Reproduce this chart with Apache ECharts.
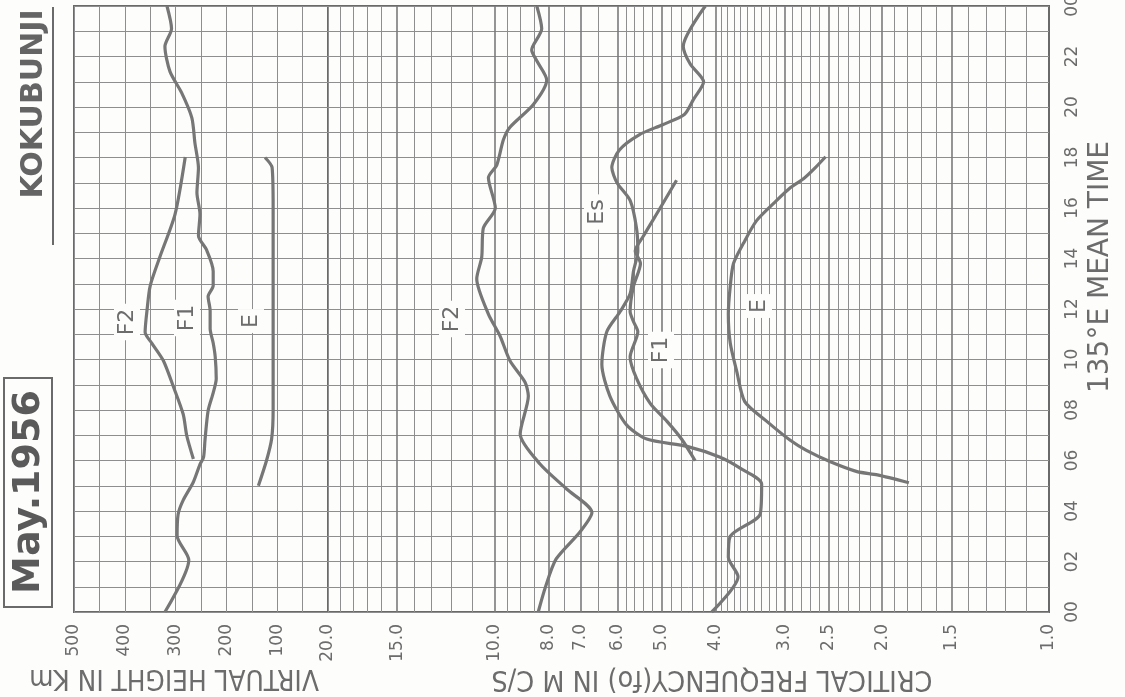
<!DOCTYPE html>
<html>
<head>
<meta charset="utf-8">
<script src="https://cdn.jsdelivr.net/npm/echarts/dist/echarts.min.js"></script>
<style>
  html, body { margin: 0; padding: 0; background: #fdfdfc; }
  #main { width: 1125px; height: 697px; }
</style>
</head>
<body>
<div id="main"></div>
<script>
  // ---- values (hour of day, 135E mean time) ----
  // virtual heights, km
  var hourHF   = [0, 2.06, 3.02, 3.87, 4.43, 5.15, 5.85, 6.13, 6.84, 7.97, 8.68, 9.24, 10.1, 10.65, 11.22, 11.93, 12.5, 12.92, 13.5, 14.34, 14.9, 15.76, 16.6, 17.59, 18.58, 19.57, 20.56, 21.4, 22.4, 23.1, 24];
  var heightHF = [321, 274, 297, 295, 285, 265, 252, 245, 242, 236, 226, 220, 222, 226, 232, 232, 236, 226, 226, 239, 255, 252, 258, 255, 262, 268, 288, 311, 321, 308, 317];
  var hourHF2   = [6.06, 6.98, 7.83, 8.96, 9.95, 10.65, 11.08, 12.0, 12.92, 14.06, 15.76, 18.02];
  var heightHF2 = [265, 278, 285, 305, 324, 347, 360, 356, 350, 331, 301, 281];
  var hourHE   = [5.0, 6.0, 6.85, 8, 10, 12, 14, 16, 17.6, 18.0];
  var heightHE = [137, 121, 111, 108, 108, 108, 108, 108, 110, 124];

  // critical frequencies, Mc/s
  var hourFoF2 = [0, 1.0, 2.1, 3.17, 3.94, 4.87, 5.85, 7.05, 8.55, 9.1, 9.95, 10.94, 11.8, 13.2, 14.05, 15.2, 16.0, 17.2, 17.7, 18.7, 19.2, 20.1, 21.07, 21.83, 22.26, 23.1, 24];
  var foF2     = [8.35, 8.1, 7.75, 7.02, 6.68, 7.42, 8.28, 9.0, 8.70, 8.82, 9.39, 9.79, 10.27, 10.78, 10.56, 10.49, 9.98, 10.27, 9.92, 9.65, 9.39, 8.52, 8.06, 8.40, 8.58, 8.23, 8.40];
  var hourFoEs = [0, 1.4, 2.17, 3.0, 3.88, 5.07, 5.7, 6.13, 6.56, 6.85, 7.4, 8.55, 9.8, 11.1, 11.9, 12.6, 13.5, 14.3, 15.2, 16.3, 17.0, 17.6, 18.3, 18.9, 19.3, 19.7, 20.3, 21.0, 21.7, 22.4, 24];
  var foEs     = [4.06, 3.64, 3.79, 3.76, 3.32, 3.30, 3.61, 3.92, 4.50, 5.32, 5.78, 6.20, 6.41, 6.28, 5.94, 5.70, 5.62, 5.52, 5.55, 5.70, 6.02, 6.15, 5.96, 5.49, 4.98, 4.55, 4.38, 4.20, 4.44, 4.57, 4.17];
  var hourFoF1 = [5.99, 6.84, 7.55, 8.25, 9.25, 10.1, 11.1, 11.5, 11.9, 12.9, 13.8, 14.3, 14.9, 16.0, 17.1];
  var foF1     = [4.35, 4.60, 4.89, 5.24, 5.55, 5.70, 5.52, 5.62, 5.70, 5.62, 5.46, 5.58, 5.39, 5.03, 4.70];
  var hourFoE  = [5.12, 5.43, 5.56, 5.95, 6.4, 6.8, 7.55, 8.33, 9.53, 10.65, 11.8, 12.9, 13.8, 14.6, 15.5, 16.3, 16.8, 17.17, 17.6, 18.03];
  var foE      = [1.79, 2.04, 2.22, 2.48, 2.74, 2.93, 3.23, 3.54, 3.66, 3.76, 3.79, 3.76, 3.71, 3.56, 3.37, 3.10, 2.93, 2.77, 2.64, 2.53];

  // ruling of the frequency (log) part and its labels
  var freqRules = [1.1, 1.2, 1.3, 1.4, 1.5, 1.6, 1.7, 1.8, 1.9, 2.0, 2.1, 2.2, 2.3, 2.4, 2.5, 2.6, 2.7, 2.8, 2.9,
                   3.0, 3.1, 3.2, 3.3, 3.4, 3.5, 3.6, 3.7, 3.8, 3.9, 4.0, 4.2, 4.4, 4.6, 4.8, 5.0, 5.2, 5.4, 5.6, 5.8,
                   6.0, 6.5, 7.0, 7.5, 8.0, 8.5, 9.0, 9.5, 10, 11, 12, 13, 14, 15, 16, 17, 18, 19];
  var freqMajor = [1.5, 2.0, 2.5, 3.0, 4.0, 5.0, 6.0, 7.0, 8.0, 10, 15];
  var freqTicks  = [20, 15, 10, 8, 7, 6, 5, 4, 3, 2.5, 2, 1.5, 1];
  var freqTickTx = ['20.0', '15.0', '10.0', '8.0', '7.0', '6.0', '5.0', '4.0', '3.0', '2.5', '2.0', '1.5', '1.0'];

  var INK = '#6c6c6c';
  var RULE = '#8e8e8e';
  var CURVE = '#767676';
  var FONT = 'DejaVu Sans';

  function pairs(hours, vals) {
    var out = [];
    for (var i = 0; i < hours.length; i++) out.push([vals[i], hours[i]]);
    return out;
  }

  function curve(name, gi, hours, vals) {
    return {
      name: name, type: 'line', xAxisIndex: gi, yAxisIndex: gi,
      data: pairs(hours, vals), smooth: 0.25, showSymbol: false, symbol: 'none',
      lineStyle: { color: CURVE, width: 3.2 }, z: 5, silent: true
    };
  }

  var rules = [];
  for (var i = 0; i < freqRules.length; i++) {
    var major = freqMajor.indexOf(freqRules[i]) >= 0;
    rules.push({ xAxis: freqRules[i], lineStyle: { color: major ? '#7a7a7a' : RULE, width: major ? 1.6 : 1, type: 'solid' } });
  }

  var myChart = echarts.init(document.getElementById('main'));
  var option = {
    backgroundColor: '#fdfdfc',
    animation: false,
    grid: [
      { left: 74, right: 797, top: 6, bottom: 85, show: true, borderColor: '#6a6a6a', borderWidth: 2, backgroundColor: 'transparent', containLabel: false, outerBoundsMode: 'none' },
      { left: 328, right: 76, top: 6, bottom: 85, show: true, borderColor: '#6a6a6a', borderWidth: 2, backgroundColor: 'transparent', containLabel: false, outerBoundsMode: 'none' }
    ],
    xAxis: [
      {
        gridIndex: 0, type: 'value', min: 0, max: 500, interval: 50, inverse: true,
        axisLine: { show: false }, axisTick: { show: false },
        splitLine: { show: true, lineStyle: { color: RULE, width: 1 } },
        axisLabel: {
          show: true, rotate: 90, margin: 12, fontSize: 17, fontFamily: FONT, color: INK,
          showMinLabel: true, showMaxLabel: true,
          formatter: function (v) { return (v > 0 && v % 100 === 0) ? String(v) : ''; }
        }
      },
      {
        gridIndex: 1, type: 'log', logBase: 10, min: 1, max: 20, inverse: true,
        axisLine: { show: false }, axisTick: { show: false },
        splitLine: { show: false }, axisLabel: { show: false }
      }
    ],
    yAxis: [
      {
        gridIndex: 0, type: 'value', min: 0, max: 24, interval: 1,
        axisLine: { show: false }, axisTick: { show: false }, axisLabel: { show: false },
        splitLine: { show: true, lineStyle: { color: RULE, width: 1 } }
      },
      {
        gridIndex: 1, type: 'value', min: 0, max: 24, interval: 1, position: 'right',
        axisLine: { show: false }, axisTick: { show: false },
        splitLine: { show: true, lineStyle: { color: RULE, width: 1 } },
        axisLabel: {
          show: true, rotate: 90, margin: 15, fontSize: 17, fontFamily: FONT, color: INK,
          showMinLabel: true, showMaxLabel: true,
          formatter: function (v) {
            if (v % 2 !== 0) return '';
            var h = v % 24;
            return (h < 10 ? '0' : '') + h;
          }
        }
      }
    ],
    series: [
      {
        name: 'rules', type: 'line', xAxisIndex: 1, yAxisIndex: 1, data: [], z: 1, silent: true,
        markLine: { silent: true, symbol: ['none', 'none'], label: { show: false }, animation: false, data: rules }
      },
      curve("h'F", 0, hourHF, heightHF),
      curve("h'F2", 0, hourHF2, heightHF2),
      curve("h'E", 0, hourHE, heightHE),
      curve('foF2', 1, hourFoF2, foF2),
      curve('foEs', 1, hourFoEs, foEs),
      curve('foF1', 1, hourFoF1, foF1),
      curve('foE', 1, hourFoE, foE)
    ]
  };
  myChart.setOption(option);

  // texts: frequency tick labels (placed through the log axis), titles, curve names
  var g = [];
  for (var k = 0; k < freqTicks.length; k++) {
    var p = myChart.convertToPixel({ gridIndex: 1 }, [freqTicks[k], 0]);
    g.push({
      type: 'text', x: p[0], y: p[1] + 12, rotation: Math.PI / 2, z: 50,
      style: { text: freqTickTx[k], fontSize: 17, fontFamily: FONT, fill: INK,
               align: 'right', textAlign: 'right', verticalAlign: 'middle', textVerticalAlign: 'middle' }
    });
  }

  function txt(s, x, y, rot, size, opts) {
    opts = opts || {};
    return {
      type: 'text', x: x, y: y, rotation: rot, scaleX: opts.sx || 1, z: 60,
      style: {
        text: s, fontSize: size, fontFamily: FONT, fontWeight: opts.bold ? 'bold' : 'normal',
        fill: opts.fill || INK, align: 'center', textAlign: 'center',
        verticalAlign: 'middle', textVerticalAlign: 'middle',
        backgroundColor: opts.bg, padding: opts.bg ? [2, 5] : 0
      }
    };
  }

  g.push(txt('VIRTUAL HEIGHT IN Km', 174, 677, Math.PI, 28, { sx: 0.89 }));
  g.push(txt('CRITICAL FREQUENCY(fo) IN M C/S', 712, 678, Math.PI, 28, { sx: 0.915 }));
  g.push(txt('135°E MEAN TIME', 1101, 267, Math.PI / 2, 28));
  g.push(txt('KOKUBUNJI', 34, 104, Math.PI / 2, 30, { bold: true, fill: '#646464' }));
  g.push({ type: 'line', z: 60, shape: { x1: 53, y1: 7, x2: 53, y2: 245 }, style: { stroke: '#6a6a6a', lineWidth: 2 } });
  g.push({ type: 'rect', z: 60, shape: { x: 4, y: 378, width: 48, height: 229 }, style: { fill: 'none', stroke: '#6a6a6a', lineWidth: 2 } });
  g.push(txt('May.1956', 29, 492, Math.PI / 2, 38, { bold: true, fill: '#5a5a5a' }));

  // curve names
  g.push(txt('F2', 127, 322, Math.PI / 2, 22, { bg: '#fdfdfc' }));
  g.push(txt('F1', 187, 318, Math.PI / 2, 22, { bg: '#fdfdfc' }));
  g.push(txt('E', 251, 321, Math.PI / 2, 22, { bg: '#fdfdfc' }));
  g.push(txt('F2', 452, 319, Math.PI / 2, 22, { bg: '#fdfdfc' }));
  g.push(txt('Es', 597, 212, Math.PI / 2, 22, { bg: '#fdfdfc' }));
  g.push(txt('F1', 661, 350, Math.PI / 2, 22, { bg: '#fdfdfc' }));
  g.push(txt('E', 759, 306, Math.PI / 2, 22, { bg: '#fdfdfc' }));

  myChart.setOption({ graphic: g });
</script>
</body>
</html>
